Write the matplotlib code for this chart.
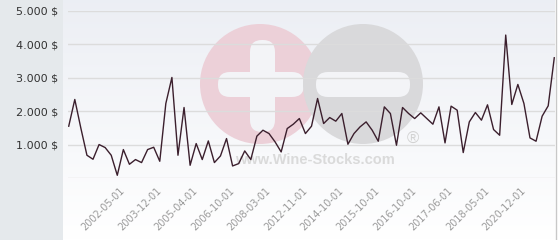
import numpy as np
import matplotlib
matplotlib.use('Agg')
import matplotlib.pyplot as plt
from matplotlib.patches import Rectangle, Circle, FancyBboxPatch
from matplotlib.ticker import FuncFormatter

# price series (one value per listing)
prices = [1557, 2356, 1497, 689, 569, 1009, 919, 689, 90, 859,
          419, 560, 470, 859, 928, 509, 2236, 3014, 689, 2116,
          389, 1038, 560, 1117, 470, 668, 1188, 369, 439, 818,
          560, 1260, 1437, 1337, 1088, 788, 1487, 1617, 1786, 1337,
          1557, 2386, 1637, 1816, 1707, 1936, 1018, 1337, 1537, 1686,
          1437, 1108, 2135, 1936, 988, 2116, 1936, 1786, 1956, 1786,
          1617, 2135, 1058, 2156, 2036, 769, 1686, 1966, 1737, 2196,
          1457, 1287, 4281, 2206, 2805, 2236, 1207, 1108, 1856, 2166,
          3602]
tick_labels = ['2002-05-01', '2003-12-01', '2005-04-01', '2006-10-01',
               '2008-03-01', '2012-11-01', '2014-10-01', '2015-10-01',
               '2016-10-01', '2017-06-01', '2018-05-01', '2020-12-01']
y_ticks = [0, 1000, 2000, 3000, 4000, 5000]

fig = plt.figure(figsize=(5.6, 2.4), dpi=100, facecolor='white')

# background: grey gutter, gradient panel, watermark
bg = fig.add_axes([0, 0, 1, 1], zorder=-1)
bg.set_xlim(0, 560)
bg.set_ylim(240, 0)
bg.axis('off')
bg.add_patch(Rectangle((0, 0), 63, 240, color='#e5e9ec', lw=0))
grad = np.linspace(0, 1, 100)[:, None]
top = np.array([0.925, 0.935, 0.957])
bot = np.array([1.0, 1.0, 1.0])
img = top[None, None, :] * (1 - grad[..., None]) + bot[None, None, :] * grad[..., None]
bg.imshow(img, extent=(63, 555, 240, 0), aspect='auto', zorder=0)
bg.plot([555.5, 555.5], [0, 240], color='#c8c8c8', lw=1, zorder=1)

bar = '#f3f4f7'
bg.add_patch(Circle((260, 84), 60, color='#ecd0d8', lw=0, zorder=2))
bg.add_patch(FancyBboxPatch((218, 72), 86, 25, boxstyle='round,pad=0,rounding_size=12',
                            color=bar, lw=0, zorder=3))
bg.add_patch(FancyBboxPatch((250, 40), 25, 92, boxstyle='round,pad=0,rounding_size=12',
                            color=bar, lw=0, zorder=3))
bg.add_patch(Circle((363, 84), 60, color='#d9d9db', lw=0, zorder=4))
bg.add_patch(FancyBboxPatch((316, 72), 94, 25, boxstyle='round,pad=0,rounding_size=12',
                            color=bar, lw=0, zorder=5))
bg.text(315, 160, 'www.Wine-Stocks.com', ha='center', va='center', fontsize=10.5,
        fontweight='bold', family='Liberation Sans', color='#dadada', zorder=6)
bg.text(413, 139, '\u00ae', ha='center', va='center', fontsize=12,
        family='Liberation Sans', color='#d2d2d2', zorder=6)

# main chart
ax = fig.add_axes([68 / 560, 1 - 178.3 / 240, 487 / 560, 167.3 / 240])
ax.set_facecolor('none')
x = np.arange(len(prices))
ax.plot(x, prices, color='#3b1f2d', lw=1.0, zorder=3)
ax.set_xlim(-0.12, len(prices) - 1 + 0.12)
ax.set_ylim(0, 5000)

ax.set_yticks(y_ticks)
ax.yaxis.set_major_formatter(FuncFormatter(
    lambda v, p: '' if v == 0 else f'{int(v):,} $'.replace(',', '.')))
ax.grid(axis='y', color='#dcdcdc', lw=1)
ax.set_axisbelow(True)
ax.tick_params(axis='y', length=0, pad=7, labelsize=8, labelcolor='#333333')

ticks = list(range(9, len(prices), 6))
ax.set_xticks(ticks)
ax.set_xticklabels(tick_labels, rotation=45, ha='right', va='center',
                   rotation_mode='anchor', fontsize=7, color='#9a9a9a')
ax.tick_params(axis='x', length=0, pad=8)

for s in ax.spines.values():
    s.set_visible(False)

fig.savefig('out.png', dpi=100)
